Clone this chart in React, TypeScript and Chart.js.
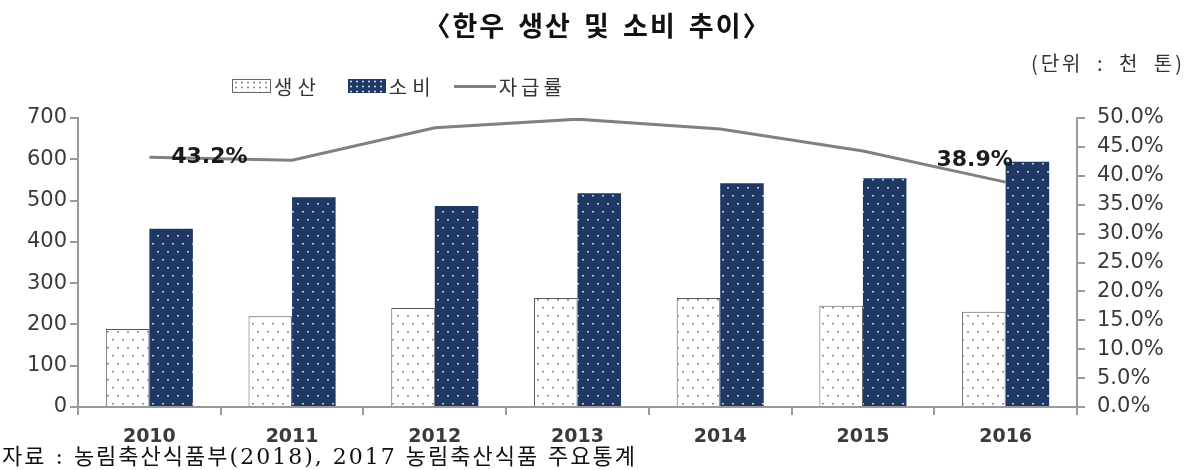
import React, { useEffect, useRef } from "react";
import { Chart, registerables } from "chart.js";

Chart.register(...registerables);

const years = ["2010", "2011", "2012", "2013", "2014", "2015", "2016"];
const production = [189, 220, 240, 264, 264, 245, 231];
const consumption = [432, 508, 487, 518, 542, 554, 594];
const selfSufficiency = [43.2, 42.7, 48.3, 49.8, 48.1, 44.3, 38.9];
const labeledPoints = [0, 6];

const titleText = "〈한우 생산 및 소비 추이〉";
const unitText = "(단위 : 천 톤)";
const sourceText = "자료 : 농림축산식품부(2018), 2017 농림축산식품 주요통계";

function makePattern(bg: string, dot: string): CanvasPattern | string {
  const c = document.createElement("canvas");
  c.width = 10;
  c.height = 16;
  const ctx = c.getContext("2d");
  if (!ctx) return bg;
  ctx.fillStyle = bg;
  ctx.fillRect(0, 0, 10, 16);
  ctx.fillStyle = dot;
  ctx.fillRect(2, 3, 2, 1.5);
  ctx.fillRect(7, 11, 2, 1.5);
  const p = ctx.createPattern(c, "repeat");
  return p || bg;
}

const axisColor = "#9a9a9a";
const tickColor = "#3a3a3a";

export default function App() {
  const canvasRef = useRef<HTMLCanvasElement | null>(null);

  useEffect(() => {
    const canvas = canvasRef.current;
    if (!canvas) return;
    const prodPattern = makePattern("#ffffff", "#8a8a8a");
    const consPattern = makePattern("#1f3864", "#c8d0e0");

    const labelPlugin = {
      id: "pointLabels",
      afterDatasetsDraw(chart: any) {
        const meta = chart.getDatasetMeta(2);
        const ctx = chart.ctx;
        ctx.save();
        ctx.font = "bold 22px 'DejaVu Sans', sans-serif";
        ctx.fillStyle = "#1a1a1a";
        ctx.textAlign = "center";
        ctx.textBaseline = "middle";
        labeledPoints.forEach((i, k) => {
          const pt = meta.data[i];
          if (!pt) return;
          const dx = k === 0 ? 60 : -31;
          const dy = k === 0 ? 0 : -22;
          ctx.fillText(selfSufficiency[i].toFixed(1) + "%", pt.x + dx, pt.y + dy);
        });
        ctx.restore();
      },
    };

    const chart = new Chart(canvas, {
      type: "bar",
      data: {
        labels: years,
        datasets: [
          {
            type: "bar",
            label: "생산",
            data: production,
            backgroundColor: prodPattern as any,
            borderColor: "#555555",
            borderWidth: 1,
            yAxisID: "y",
            order: 1,
            categoryPercentage: 0.61,
            barPercentage: 1.0,
          },
          {
            type: "bar",
            label: "소비",
            data: consumption,
            backgroundColor: consPattern as any,
            borderWidth: 0,
            yAxisID: "y",
            order: 1,
            categoryPercentage: 0.61,
            barPercentage: 1.0,
          },
          {
            type: "line",
            label: "자급률",
            data: selfSufficiency,
            borderColor: "#808080",
            borderWidth: 3,
            pointRadius: 0,
            tension: 0,
            yAxisID: "y1",
            order: 0,
          } as any,
        ],
      },
      options: {
        responsive: false,
        animation: false,
        layout: { padding: { top: 118, left: 0, right: 0, bottom: 23 } },
        plugins: {
          legend: { display: false },
          title: { display: false },
          tooltip: { enabled: false },
        },
        scales: {
          x: {
            offset: true,
            grid: {
              drawOnChartArea: false,
              drawTicks: true,
              tickLength: 8,
              color: axisColor,
              lineWidth: 2,
              offset: true,
            },
            border: { display: true, color: axisColor, width: 2 },
            ticks: {
              padding: 11,
              color: tickColor,
              font: { family: "'DejaVu Sans', sans-serif", size: 19, weight: "bold" },
            },
            afterFit: (s: any) => {
              s.height = 40;
            },
          },
          y: {
            position: "left",
            min: 0,
            max: 700,
            ticks: {
              stepSize: 100,
              padding: 3,
              color: tickColor,
              font: { family: "'DejaVu Sans', sans-serif", size: 21 },
            },
            grid: {
              drawOnChartArea: false,
              drawTicks: true,
              tickLength: 8,
              color: axisColor,
              lineWidth: 2,
            },
            border: { display: true, color: axisColor, width: 2 },
            afterFit: (s: any) => {
              s.width = 78;
            },
          },
          y1: {
            position: "right",
            min: 0,
            max: 50,
            ticks: {
              stepSize: 5,
              padding: 12,
              color: tickColor,
              font: { family: "'DejaVu Sans', sans-serif", size: 21 },
              callback: (v: any) => Number(v).toFixed(1) + "%",
            },
            grid: {
              drawOnChartArea: false,
              drawTicks: true,
              tickLength: 8,
              color: axisColor,
              lineWidth: 2,
            },
            border: { display: true, color: axisColor, width: 2 },
            afterFit: (s: any) => {
              s.width = 118;
            },
          },
        },
      },
      plugins: [labelPlugin],
    } as any);

    return () => chart.destroy();
  }, []);

  const kr = "'Noto Sans CJK KR', sans-serif";
  const dotsLight = "radial-gradient(circle, #888 0.9px, transparent 1.2px)";
  const dotsDark = "radial-gradient(circle, #d0d8e8 0.9px, transparent 1.2px)";

  return (
    <div
      style={{
        position: "absolute",
        left: 0,
        top: 0,
        width: 1195,
        height: 470,
        background: "#ffffff",
        overflow: "hidden",
      }}
    >
      <canvas
        ref={canvasRef}
        width={1195}
        height={470}
        style={{ position: "absolute", left: 0, top: 0 }}
      />
      <div
        style={{
          position: "absolute",
          left: 0,
          width: 1195,
          top: 5,
          textAlign: "center",
          fontFamily: kr,
          fontWeight: 700,
          fontSize: 27,
          lineHeight: "40px",
          letterSpacing: 2,
          wordSpacing: 4,
          color: "#111",
        }}
      >
        {titleText}
      </div>
      <div
        style={{
          position: "absolute",
          right: 10,
          top: 49,
          fontFamily: kr,
          fontSize: 20,
          lineHeight: "28px",
          letterSpacing: 3,
          wordSpacing: 6,
          color: "#333",
          whiteSpace: "nowrap",
        }}
      >
        {unitText}
      </div>
      <div
        style={{
          position: "absolute",
          left: 232,
          top: 72,
          height: 28,
          display: "flex",
          alignItems: "center",
          fontFamily: kr,
          fontSize: 20,
          color: "#333",
          whiteSpace: "nowrap",
        }}
      >
        <span
          style={{
            display: "inline-block",
            width: 37,
            height: 12,
            border: "1px solid #666",
            backgroundColor: "#fff",
            backgroundImage: dotsLight,
            backgroundSize: "6px 5px",
          }}
        />
        <span style={{ marginLeft: 3, letterSpacing: 5 }}>생산</span>
        <span
          style={{
            display: "inline-block",
            width: 38,
            height: 14,
            marginLeft: 27,
            backgroundColor: "#1f3864",
            backgroundImage: dotsDark,
            backgroundSize: "6px 5px",
          }}
        />
        <span style={{ marginLeft: 3, letterSpacing: 5 }}>소비</span>
        <span
          style={{
            display: "inline-block",
            width: 42,
            height: 3,
            marginLeft: 18,
            backgroundColor: "#808080",
          }}
        />
        <span style={{ marginLeft: 3, letterSpacing: 4 }}>자급률</span>
      </div>
      <div
        style={{
          position: "absolute",
          left: 2,
          top: 443,
          fontFamily: "'DejaVu Serif', 'Noto Sans CJK KR', serif",
          fontSize: 22,
          lineHeight: "27px",
          letterSpacing: 2,
          color: "#111",
          whiteSpace: "nowrap",
        }}
      >
        {sourceText}
      </div>
    </div>
  );
}
